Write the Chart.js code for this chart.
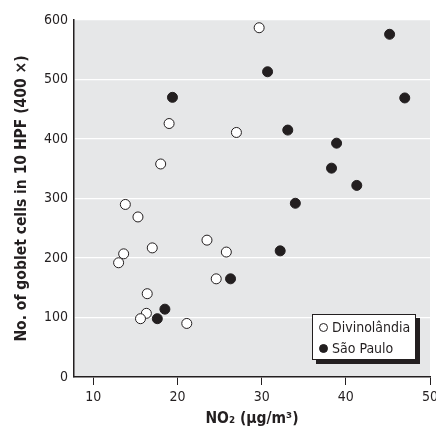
<!DOCTYPE html>
<html>
<head>
<meta charset="utf-8">
<script src="https://cdn.jsdelivr.net/npm/chart.js@4.4.0/dist/chart.umd.min.js"></script>
<style>
  html, body { margin: 0; padding: 0; background: #fff; }
  #wrap { position: relative; width: 436px; height: 432px; }
  #legend {
    position: absolute; left: 312px; top: 314px; width: 104px; height: 46px;
    background: #fff; border: 1px solid #231f20; box-shadow: 4px 4px 0 #231f20;
    font-family: 'Liberation Sans Narrow', 'DejaVu Sans Condensed', sans-serif;
    font-size: 14px; color: #231f20; box-sizing: border-box; padding: 2px 0 0 6px;
  }
  .row { height: 21px; line-height: 21px; white-space: nowrap; }
  .dot { display: inline-block; width: 9px; height: 9px; border-radius: 50%;
         border: 1px solid #231f20; margin-right: 4px; box-sizing: border-box; }
</style>
</head>
<body>
<div id="wrap">
  <canvas id="chart" width="436" height="432"></canvas>
  <div id="legend">
    <div class="row"><span class="dot" style="background:#fff"></span>Divinolândia</div>
    <div class="row"><span class="dot" style="background:#231f20"></span>São Paulo</div>
  </div>
</div>
<script>
// ── Data ──────────────────────────────────
const DIVINO_X = [29.7, 19.0, 27.0, 18.0, 13.8, 15.3, 17.0, 13.6, 13.0, 16.4, 16.3, 15.6, 21.1, 23.5, 25.8, 24.6];
const DIVINO_Y = [587, 426, 411, 358, 290, 269, 217, 207, 192, 140, 107, 98, 90, 230, 210, 165];
const SP_X = [19.4, 45.2, 30.7, 47.0, 33.1, 38.9, 38.3, 41.3, 34.0, 32.2, 26.3, 18.5, 17.6];
const SP_Y = [470, 576, 513, 469, 415, 393, 351, 322, 292, 212, 165, 114, 98];
const X_TICKS = [10, 20, 30, 40, 50];
const Y_TICKS = [0, 100, 200, 300, 400, 500, 600];

const INK = '#231f20';
const FONT = "'Liberation Sans Narrow', 'DejaVu Sans Condensed', sans-serif";

const toPoints = (xs, ys) => xs.map((x, i) => ({ x, y: ys[i] }));

// gray plot background
const plotBg = {
  id: 'plotBg',
  beforeDraw(chart) {
    const { ctx, chartArea: a } = chart;
    ctx.save();
    ctx.fillStyle = '#e6e7e8';
    ctx.fillRect(a.left, a.top, a.right - a.left, a.bottom - a.top);
    ctx.restore();
  },
};

new Chart(document.getElementById('chart'), {
  type: 'scatter',
  data: {
    datasets: [
      {
        label: 'Divinolândia',
        data: toPoints(DIVINO_X, DIVINO_Y),
        backgroundColor: '#fff',
        borderColor: INK,
        borderWidth: 1,
        pointRadius: 5,
      },
      {
        label: 'São Paulo',
        data: toPoints(SP_X, SP_Y),
        backgroundColor: INK,
        borderColor: INK,
        borderWidth: 1,
        pointRadius: 5,
      },
    ],
  },
  options: {
    responsive: false,
    animation: false,
    layout: { padding: { top: 20, right: 5, left: 0, bottom: 0 } },
    plugins: { legend: { display: false }, tooltip: { enabled: false } },
    scales: {
      x: {
        type: 'linear',
        min: 7.7, max: 50,
        afterBuildTicks: s => { s.ticks = X_TICKS.map(v => ({ value: v })); },
        afterFit: s => { s.height = 55; s.paddingRight = 0; s.paddingLeft = 0; },
        grid: { drawOnChartArea: false, drawTicks: true, tickLength: 8, color: INK, lineWidth: 1 },
        border: { display: true, color: INK, width: 1.5 },
        ticks: { color: INK, font: { family: FONT, size: 14 }, padding: 4 },
        title: {
          display: true, text: 'NO₂ (µg/m³)', color: INK,
          font: { family: FONT, size: 15.5, weight: 'bold' }, padding: { top: 0, bottom: 4 },
        },
      },
      y: {
        min: 0, max: 600,
        afterBuildTicks: s => { s.ticks = Y_TICKS.map(v => ({ value: v })); },
        afterFit: s => { s.width = 74; s.paddingTop = 0; s.paddingBottom = 0; },
        grid: { drawTicks: false, color: '#fff', lineWidth: 1.2 },
        border: { display: true, color: INK, width: 1.5 },
        ticks: { color: INK, font: { family: FONT, size: 14 }, padding: 6 },
        title: {
          display: true, text: 'No. of goblet cells in 10 HPF (400 ×)', color: INK,
          font: { family: FONT, size: 15.5, weight: 'bold' }, padding: { top: 13, bottom: 0 },
        },
      },
    },
  },
  plugins: [plotBg],
});
</script>
</body>
</html>
